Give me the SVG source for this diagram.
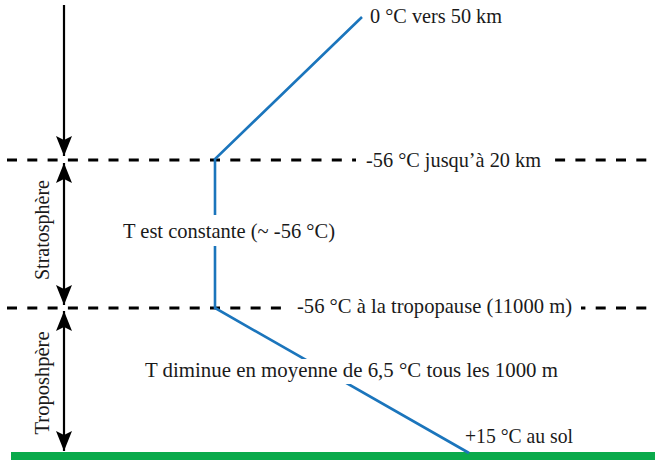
<svg xmlns="http://www.w3.org/2000/svg" width="655" height="460" viewBox="0 0 655 460">
  <style>
    .lbl { font-family: 'Liberation Serif', 'Times New Roman', Times, serif; font-size: 21px; fill: #1a1a1a; }
    .dash { stroke: #000; stroke-width: 2.8; stroke-dasharray: 10 10.3; fill: none; }
    .axis { stroke: #000; stroke-width: 2.2; fill: none; }
    .temp { stroke: #1b75bc; stroke-width: 2.6; fill: none; stroke-linejoin: miter; }
    .knock { fill: #fff; }
  </style>
  <defs>
    <marker id="arrow" markerUnits="userSpaceOnUse" markerWidth="20" markerHeight="16" refX="20" refY="8" orient="auto-start-reverse" viewBox="0 0 20 16">
      <path d="M0,0 L20,8 L0,16 L4,8 Z" fill="#000"/>
    </marker>
  </defs>

  <rect id="ground" x="11" y="452" width="644" height="8" fill="#0aaa4b"/>

  <g id="levels">
    <line class="dash" x1="7" y1="160" x2="655" y2="160"/>
    <line class="dash" x1="7" y1="308" x2="655" y2="308"/>
  </g>

  <g id="connectors">
    <line class="axis" x1="64" y1="5" x2="64" y2="156" marker-end="url(#arrow)"/>
    <line class="axis" x1="64" y1="163" x2="64" y2="305" marker-start="url(#arrow)" marker-end="url(#arrow)"/>
    <line class="axis" x1="64" y1="311" x2="64" y2="451" marker-start="url(#arrow)" marker-end="url(#arrow)"/>
    <polyline id="temperature-profile" class="temp" points="362,17 215,159 215,308 469,453"/>
  </g>

  <g id="layer-stratosphere">
    <text class="lbl" font-family="Liberation Serif, serif" transform="translate(49,230) rotate(-90)" text-anchor="middle" textLength="100" lengthAdjust="spacingAndGlyphs">Stratosphère</text>
  </g>
  <g id="layer-troposphere">
    <text class="lbl" font-family="Liberation Serif, serif" transform="translate(49,383) rotate(-90)" text-anchor="middle" textLength="103" lengthAdjust="spacingAndGlyphs">Troposhpère</text>
  </g>

  <g id="label-50km">
    <text class="lbl" font-family="Liberation Serif, serif" x="370" y="23" textLength="132" lengthAdjust="spacingAndGlyphs">0 °C vers 50 km</text>
  </g>
  <g id="label-20km">
    <rect class="knock" x="356" y="150" width="196" height="20"/>
    <text class="lbl" font-family="Liberation Serif, serif" x="366" y="167" textLength="175" lengthAdjust="spacingAndGlyphs">-56 °C jusqu’à 20 km</text>
  </g>
  <g id="label-constant">
    <rect class="knock" x="118" y="215" width="222" height="31"/>
    <text class="lbl" font-family="Liberation Serif, serif" x="123" y="238" textLength="212" lengthAdjust="spacingAndGlyphs">T est constante (~ -56 °C)</text>
  </g>
  <g id="label-tropopause">
    <rect class="knock" x="289" y="298" width="292" height="20"/>
    <text class="lbl" font-family="Liberation Serif, serif" x="297" y="313" textLength="275" lengthAdjust="spacingAndGlyphs">-56 °C à la tropopause (11000 m)</text>
  </g>
  <g id="label-decrease">
    <rect class="knock" x="140" y="359" width="423" height="25"/>
    <text class="lbl" font-family="Liberation Serif, serif" x="145" y="377" textLength="413" lengthAdjust="spacingAndGlyphs">T diminue en moyenne de 6,5 °C tous les 1000 m</text>
  </g>
  <g id="label-ground">
    <text class="lbl" font-family="Liberation Serif, serif" x="465" y="443" textLength="108" lengthAdjust="spacingAndGlyphs">+15 °C au sol</text>
  </g>
</svg>
